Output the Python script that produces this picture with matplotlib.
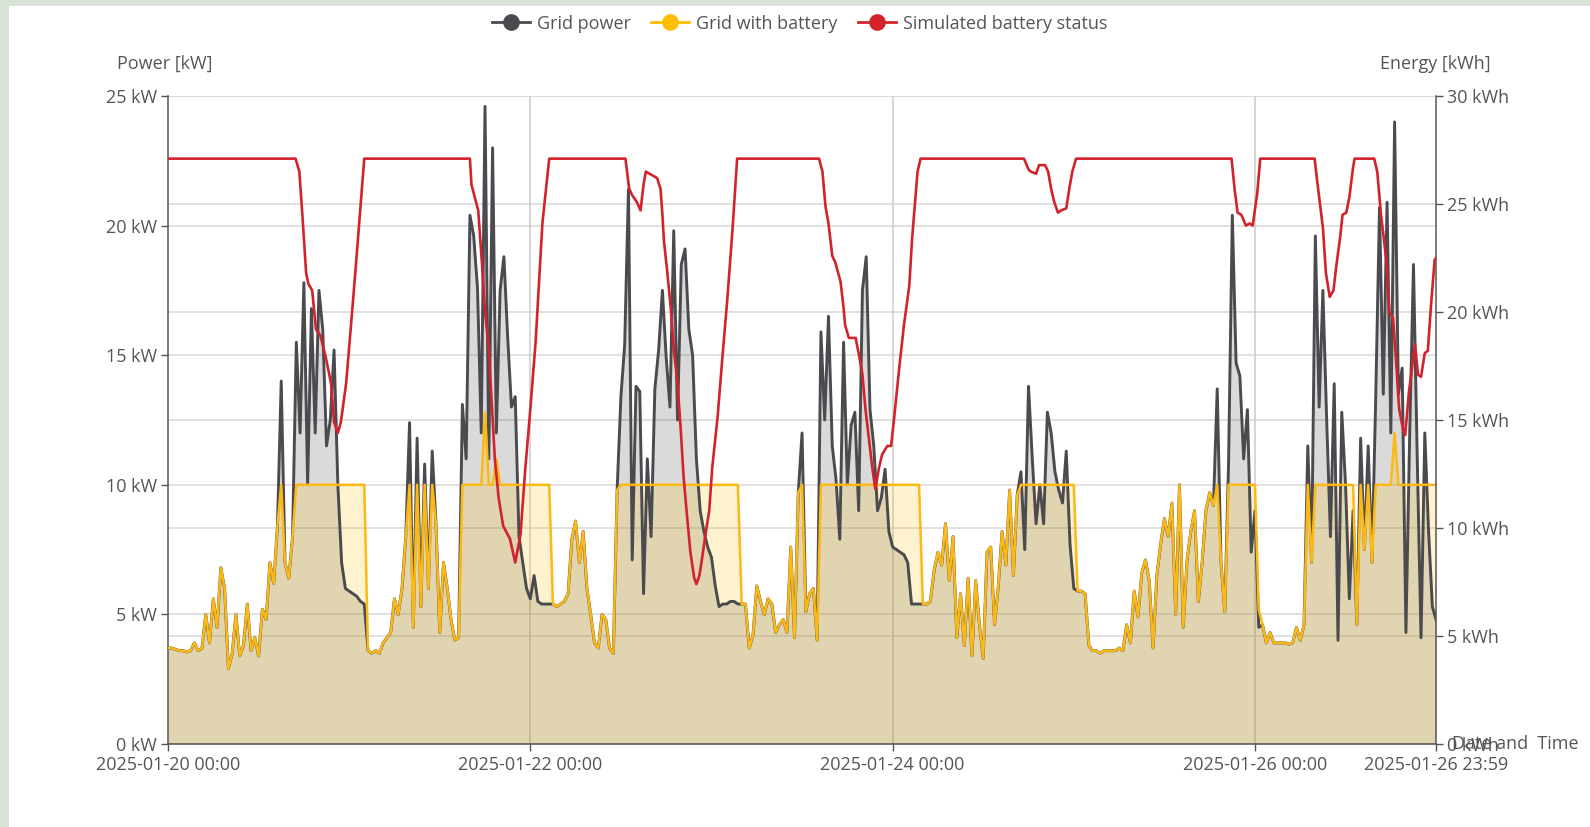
import numpy as np
import pandas as pd
import matplotlib
matplotlib.use("Agg")
import matplotlib.pyplot as plt
from matplotlib.lines import Line2D
from matplotlib.patches import Rectangle
from matplotlib.transforms import blended_transform_factory

plt.rcParams['font.family'] = ['Open Sans', 'DejaVu Sans']

# ---------------- data ----------------
start = pd.Timestamp("2025-01-20 00:00")
end = pd.Timestamp("2025-01-26 23:59")

# Grid power [kW], 30-minute samples, one list per day
grid_power_d20 = [3.7, 3.7, 3.65, 3.6, 3.6, 3.55, 3.6, 3.9, 3.6, 3.7,
                  5.0, 3.9, 5.6, 4.5, 6.8, 6.0, 2.9, 3.5, 5.0, 3.4,
                  3.8, 5.4, 3.6, 4.1, 3.4, 5.2, 4.8, 7.0, 6.2, 8.4,
                  14.0, 7.0, 6.4, 8.0, 15.5, 12.0, 17.8, 10.0, 16.8, 12.0,
                  17.5, 16.0, 11.5, 12.5, 15.2, 10.0, 7.0, 6.0]
grid_power_d21 = [5.9, 5.8, 5.7, 5.5, 5.4, 3.6, 3.5, 3.6, 3.5, 3.9,
                  4.1, 4.3, 5.6, 5.0, 6.0, 8.0, 12.4, 4.5, 11.8, 5.3,
                  10.8, 6.0, 11.3, 8.5, 4.3, 7.0, 6.0, 4.8, 4.0, 4.1,
                  13.1, 11.0, 20.4, 19.6, 17.6, 12.0, 24.6, 11.0, 23.0, 12.0,
                  17.5, 18.8, 15.7, 13.0, 13.4, 8.0, 7.0, 6.0]
grid_power_d22 = [5.6, 6.5, 5.5, 5.4, 5.4, 5.4, 5.4, 5.3, 5.4, 5.5,
                  5.8, 7.9, 8.6, 7.0, 8.2, 6.0, 5.0, 3.9, 3.7, 5.0,
                  4.8, 3.7, 3.5, 9.8, 13.4, 15.4, 21.4, 7.1, 13.8, 13.6,
                  5.8, 11.0, 8.0, 13.7, 15.2, 17.5, 14.9, 13.0, 19.8, 12.5,
                  18.5, 19.1, 16.0, 15.0, 11.0, 9.0, 8.2, 7.6]
grid_power_d23 = [7.2, 6.1, 5.3, 5.4, 5.4, 5.5, 5.5, 5.4, 5.4, 5.4,
                  3.7, 4.2, 6.1, 5.5, 5.0, 5.6, 5.4, 4.3, 4.6, 4.8,
                  4.3, 7.6, 4.1, 9.7, 12.0, 5.1, 5.8, 6.0, 4.0, 15.9,
                  12.5, 16.5, 11.5, 10.2, 7.9, 15.5, 10.0, 12.3, 12.8, 9.0,
                  17.5, 18.8, 12.9, 11.5, 9.0, 9.5, 10.6, 8.2]
grid_power_d24 = [7.6, 7.5, 7.4, 7.3, 7.0, 5.4, 5.4, 5.4, 5.4, 5.4,
                  5.5, 6.7, 7.4, 6.9, 8.5, 6.3, 8.0, 4.1, 5.8, 3.8,
                  6.4, 3.4, 6.3, 4.6, 3.3, 7.4, 7.6, 4.6, 6.1, 8.2,
                  6.9, 9.8, 6.5, 9.6, 10.5, 7.5, 13.8, 11.0, 8.5, 10.0,
                  8.5, 12.8, 12.0, 10.5, 9.8, 9.3, 11.3, 7.7]
grid_power_d25 = [6.0, 5.9, 5.9, 5.8, 3.8, 3.6, 3.6, 3.5, 3.6, 3.6,
                  3.6, 3.6, 3.7, 3.6, 4.6, 3.9, 5.9, 4.9, 6.6, 7.1,
                  6.3, 3.7, 6.5, 7.7, 8.7, 8.0, 9.3, 5.0, 10.0, 4.5,
                  7.1, 8.2, 9.0, 5.5, 7.0, 9.0, 9.7, 9.2, 13.7, 7.0,
                  5.1, 10.8, 20.4, 14.7, 14.2, 11.0, 12.9, 7.4]
grid_power_d26 = [9.0, 4.5, 4.6, 3.9, 4.3, 3.9, 3.9, 3.9, 3.9, 3.85,
                  3.9, 4.5, 4.0, 4.6, 11.5, 7.0, 19.6, 13.0, 17.5, 12.5,
                  8.0, 13.9, 4.0, 12.8, 10.0, 5.6, 9.0, 4.6, 11.8, 7.5,
                  11.5, 7.0, 13.4, 20.7, 13.5, 20.9, 12.0, 24.0, 13.5, 14.5,
                  4.3, 12.0, 18.5, 11.0, 4.1, 12.0, 8.2, 5.3, 4.8]

# Grid with battery [kW], same samples
with_battery_d20 = [3.7, 3.7, 3.65, 3.6, 3.6, 3.55, 3.6, 3.9, 3.6, 3.7,
                    5.0, 3.9, 5.6, 4.5, 6.8, 6.0, 2.9, 3.5, 5.0, 3.4,
                    3.8, 5.4, 3.6, 4.1, 3.4, 5.2, 4.8, 7.0, 6.2, 8.4,
                    10, 7.0, 6.4, 8.0, 10, 10, 10, 10, 10, 10,
                    10, 10, 10, 10, 10, 10, 10, 10]
with_battery_d21 = [10, 10, 10, 10, 10, 3.6, 3.5, 3.6, 3.5, 3.9,
                    4.1, 4.3, 5.6, 5.0, 6.0, 8.0, 10, 4.5, 10, 5.3,
                    10, 6.0, 10, 8.5, 4.3, 7.0, 6.0, 4.8, 4.0, 4.1,
                    10, 10, 10, 10, 10, 10, 12.8, 10, 10, 11.0,
                    10, 10, 10, 10, 10, 10, 10, 10]
with_battery_d22 = [10, 10, 10, 10, 10, 10, 5.4, 5.3, 5.4, 5.5,
                    5.8, 7.9, 8.6, 7.0, 8.2, 6.0, 5.0, 3.9, 3.7, 5.0,
                    4.8, 3.7, 3.5, 9.8, 10, 10, 10, 10, 10, 10,
                    10, 10, 10, 10, 10, 10, 10, 10, 10, 10,
                    10, 10, 10, 10, 10, 10, 10, 10]
with_battery_d23 = [10, 10, 10, 10, 10, 10, 10, 10, 5.4, 5.4,
                    3.7, 4.2, 6.1, 5.5, 5.0, 5.6, 5.4, 4.3, 4.6, 4.8,
                    4.3, 7.6, 4.1, 9.7, 10, 5.1, 5.8, 6.0, 4.0, 10,
                    10, 10, 10, 10, 10, 10, 10, 10, 10, 10,
                    10, 10, 10, 10, 10, 10, 10, 10]
with_battery_d24 = [10, 10, 10, 10, 10, 10, 10, 10, 5.4, 5.4,
                    5.5, 6.7, 7.4, 6.9, 8.5, 6.3, 8.0, 4.1, 5.8, 3.8,
                    6.4, 3.4, 6.3, 4.6, 3.3, 7.4, 7.6, 4.6, 6.1, 8.2,
                    6.9, 9.8, 6.5, 9.6, 10, 10, 10, 10, 10, 10,
                    10, 10, 10, 10, 10, 10, 10, 10]
with_battery_d25 = [10, 5.9, 5.9, 5.8, 3.8, 3.6, 3.6, 3.5, 3.6, 3.6,
                    3.6, 3.6, 3.7, 3.6, 4.6, 3.9, 5.9, 4.9, 6.6, 7.1,
                    6.3, 3.7, 6.5, 7.7, 8.7, 8.0, 9.3, 5.0, 10.0, 4.5,
                    7.1, 8.2, 9.0, 5.5, 7.0, 9.0, 9.7, 9.2, 10, 7.0,
                    5.1, 10, 10, 10, 10, 10, 10, 10]
with_battery_d26 = [10, 5.2, 4.6, 3.9, 4.3, 3.9, 3.9, 3.9, 3.9, 3.85,
                    3.9, 4.5, 4.0, 4.6, 10, 7.0, 10, 10, 10, 10,
                    10, 10, 10, 10, 10, 10, 10, 4.6, 10, 7.5,
                    10, 7.0, 10, 10, 10, 10, 10, 12.0, 10, 10,
                    10, 10, 10, 10, 10, 10, 10, 10, 10]

# Simulated battery status [kWh] at hours since start
battery_hours = [0, 16.9, 17.4, 17.8, 18.3, 18.6, 19.1, 19.6, 20.2, 20.9,
                 21.6, 22.0, 22.5, 22.9, 23.6, 24.2, 24.9, 25.6, 26.0, 40.0,
                 40.2, 41.1, 41.6, 42.0, 42.5, 42.9, 43.3, 43.8, 44.4, 45.3,
                 46.0, 46.7, 47.3, 48.0, 48.7, 49.6, 50.5, 60.6, 61.1, 61.5,
                 62.1, 62.6, 63.0, 63.3, 64.8, 65.25, 65.5, 65.7, 66.1, 66.6,
                 67.0, 67.5, 67.9, 68.3, 68.8, 69.2, 69.7, 70.0, 70.4, 70.8,
                 71.2, 71.7, 72.1, 72.8, 73.4, 74.1, 74.8, 75.4, 86.25, 86.7,
                 87.1, 87.5, 88.0, 88.4, 89.1, 89.5, 89.7, 90.2, 91.1, 91.6,
                 92.0, 92.4, 92.9, 93.3, 93.7, 94.2, 94.6, 95.3, 95.8, 96.2,
                 96.9, 97.5, 98.2, 98.6, 99.3, 99.7, 113.4, 114.0, 114.3, 115.0,
                 115.4, 116.2, 116.6, 117.0, 117.4, 117.9, 118.3, 119.0, 119.4, 119.8,
                 120.3, 140.9, 141.3, 141.7, 142.2, 142.8, 143.3, 143.7, 143.9, 144.3,
                 144.7, 151.9, 152.3, 153.0, 153.4, 153.9, 154.4, 154.8, 155.3, 155.6,
                 156.1, 156.5, 157.0, 157.2, 159.8, 160.2, 160.7, 161.4, 161.8, 162.3,
                 162.7, 163.1, 163.6, 163.9, 164.4, 164.9, 165.2, 165.6, 166.0, 166.5,
                 166.9, 167.3, 167.8, 167.98]
battery_kwh = [27.1, 27.1, 26.5, 24.5, 21.8, 21.3, 21.0, 19.2, 18.9, 17.9,
               16.7, 14.9, 14.4, 14.9, 16.7, 19.2, 22.2, 25.3, 27.1, 27.1,
               25.9, 24.7, 22.2, 20.0, 18.3, 15.7, 13.2, 11.4, 10.1, 9.5,
               8.4, 9.7, 12.6, 15.5, 18.6, 24.1, 27.1, 27.1, 25.7, 25.4,
               25.1, 24.7, 25.9, 26.5, 26.2, 25.7, 24.5, 23.3, 22.0, 20.2,
               18.3, 16.7, 14.7, 12.4, 10.4, 8.9, 7.7, 7.4, 7.8, 8.7,
               9.7, 10.8, 12.8, 15.1, 17.7, 20.6, 23.9, 27.1, 27.1, 26.5,
               24.9, 24.1, 22.6, 22.3, 21.4, 20.2, 19.4, 18.8, 18.8, 17.9,
               17.1, 15.5, 14.0, 12.8, 11.8, 12.8, 13.4, 13.8, 13.8, 15.1,
               17.5, 19.4, 21.2, 23.5, 26.5, 27.1, 27.1, 26.6, 26.5, 26.4,
               26.8, 26.8, 26.5, 25.7, 25.1, 24.6, 24.7, 24.8, 25.7, 26.5,
               27.1, 27.1, 25.7, 24.6, 24.5, 24.0, 24.1, 24.0, 24.5, 25.5,
               27.1, 27.1, 25.9, 23.9, 21.8, 20.7, 21.0, 22.2, 23.5, 24.5,
               24.6, 25.3, 26.7, 27.1, 27.1, 26.5, 24.5, 22.4, 20.0, 19.7,
               17.7, 15.5, 14.6, 14.3, 16.3, 17.7, 18.5, 17.1, 17.0, 18.1,
               18.2, 20.2, 22.4, 22.5]

left_ticks = [0, 5, 10, 15, 20, 25]
right_ticks = [0, 5, 10, 15, 20, 25, 30]
x_tick_labels = ["2025-01-20 00:00", "2025-01-22 00:00", "2025-01-24 00:00",
                 "2025-01-26 00:00", "2025-01-26 23:59"]
legend_labels = ["Grid power", "Grid with battery", "Simulated battery status"]

# ---------------- assemble ----------------
grid_power = (grid_power_d20 + grid_power_d21 + grid_power_d22 + grid_power_d23 +
              grid_power_d24 + grid_power_d25 + grid_power_d26)
grid_with_battery = (with_battery_d20 + with_battery_d21 + with_battery_d22 +
                     with_battery_d23 + with_battery_d24 + with_battery_d25 +
                     with_battery_d26)
times = list(pd.date_range(start, periods=336, freq="30min")) + [end]
battery_times = start + pd.to_timedelta(battery_hours, unit="h")

C_GREY = '#4b4a4f'
C_YEL = '#fdb913'
C_RED = '#d2232c'
C_TXT = '#555555'
C_GRID = '#d9d9d9'
FS = 13

W, H = 1590, 827
fig = plt.figure(figsize=(W / 100, H / 100), dpi=100)
fig.patch.set_facecolor('white')

# page border strips
border = '#d9e2d6'
fig.add_artist(Rectangle((0, 1 - 6 / H), 1, 6 / H, transform=fig.transFigure,
                         facecolor=border, edgecolor='none', zorder=-5))
fig.add_artist(Rectangle((0, 0), 9 / W, 1, transform=fig.transFigure,
                         facecolor=border, edgecolor='none', zorder=-5))

L, R, T, B = 168, 1436, 96, 744
ax = fig.add_axes([L / W, 1 - B / H, (R - L) / W, (B - T) / H])
ax2 = ax.twinx()

ax.set_xlim(start, end)
ax.set_ylim(0, 25)
ax2.set_ylim(0, 30)

# gridlines (left axis, right axis, vertical)
for v in left_ticks:
    ax.axhline(v, color=C_GRID, lw=1.1, zorder=0)
tr = blended_transform_factory(ax.transAxes, ax2.transData)
for v in right_ticks:
    ax.add_line(Line2D([0, 1], [v, v], transform=tr, color=C_GRID, lw=1.1, zorder=0))
for lab in x_tick_labels[1:4]:
    ax.axvline(pd.Timestamp(lab), color='#cccccc', lw=1.1, zorder=0)

# fills
ax.fill_between(times, 0, grid_power, color=C_GREY, alpha=0.20, lw=0, zorder=1)
ax.fill_between(times, 0, grid_with_battery, color='#ffbe00', alpha=0.19, lw=0, zorder=1)
# lines
ax.plot(times, grid_power, color=C_GREY, lw=2.1, zorder=2)
ax.plot(times, grid_with_battery, color=C_YEL, lw=1.8, zorder=3)
ax2.plot(battery_times, battery_kwh, color=C_RED, lw=1.9, zorder=4)

# axes styling
for a in (ax, ax2):
    for s in a.spines.values():
        s.set_visible(False)
ax.spines['left'].set_visible(True)
ax.spines['bottom'].set_visible(True)
ax2.spines['right'].set_visible(True)
for s in (ax.spines['left'], ax.spines['bottom'], ax2.spines['right']):
    s.set_color('#555555')
    s.set_linewidth(1.1)

ax.set_yticks(left_ticks)
ax.set_yticklabels([f"{v} kW" for v in left_ticks])
ax2.set_yticks(right_ticks)
ax2.set_yticklabels([f"{v} kWh" for v in right_ticks])
ax.set_xticks([pd.Timestamp(s) for s in x_tick_labels])
ax.set_xticklabels(x_tick_labels)

ax.tick_params(axis='y', length=5, width=1, color='#555555', labelcolor=C_TXT,
               labelsize=FS, pad=3)
ax2.tick_params(axis='y', length=5, width=1, color='#555555', labelcolor=C_TXT,
                labelsize=FS, pad=3)
ax.tick_params(axis='x', length=5, width=1, color='#555555', labelcolor=C_TXT,
               labelsize=FS, pad=3.5)

# axis titles
fig.text(117 / W, 1 - 64 / H, "Power [kW]", ha='left', va='center', color=C_TXT, fontsize=FS)
fig.text(1491 / W, 1 - 64 / H, "Energy [kWh]", ha='right', va='center', color=C_TXT, fontsize=FS)
fig.text(1452 / W, 1 - 744 / H, "Date and  Time", ha='left', va='center', color=C_TXT, fontsize=FS)

# legend
handles = [Line2D([], [], color=c, lw=2, marker='o', markersize=11,
                  markerfacecolor=c, markeredgecolor=c)
           for c in (C_GREY, '#ffbe00', C_RED)]
fig.legend(handles, legend_labels, loc='upper center', bbox_to_anchor=(0.503, 1.002),
           ncol=3, frameon=False, fontsize=FS, handlelength=2.1, handletextpad=0.4,
           columnspacing=1.1, labelcolor=C_TXT)

fig.savefig('out.png', dpi=100, facecolor='white')
